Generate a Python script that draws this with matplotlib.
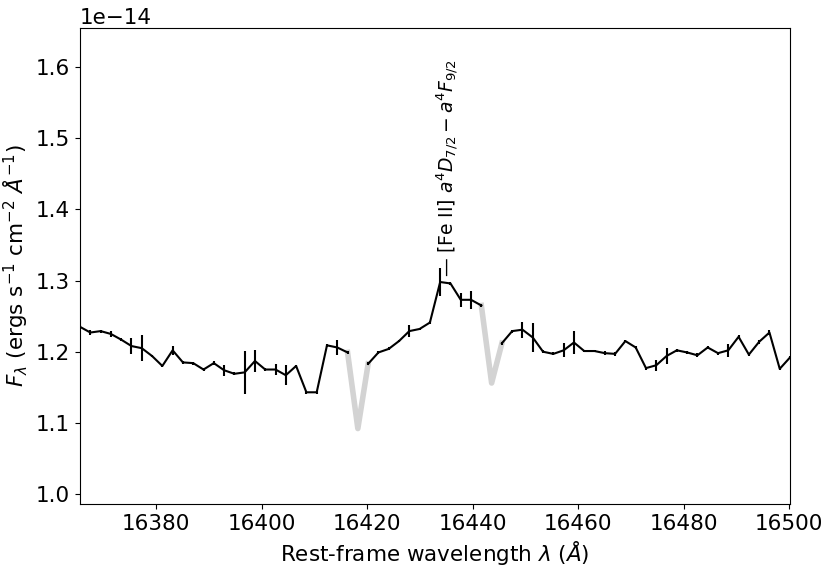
"""[Fe II] 1.644 micron region of the spectrum, masked telluric pixels in grey."""

import matplotlib
import numpy as np

matplotlib.use("Agg")
import matplotlib.pyplot as plt

WAVE = [
    16365.6, 16367.55, 16369.5, 16371.45, 16373.4, 16375.35, 16377.3, 16379.25,
    16381.2, 16383.15, 16385.1, 16387.05, 16389.0, 16390.95, 16392.9, 16394.85,
    16396.8, 16398.75, 16400.7, 16402.65, 16404.6, 16406.55, 16408.5, 16410.45,
    16412.4, 16414.35, 16416.3, 16418.25, 16420.2, 16422.15, 16424.1, 16426.05,
    16428.0, 16429.95, 16431.9, 16433.85, 16435.8, 16437.75, 16439.7, 16441.65,
    16443.6, 16445.55, 16447.5, 16449.45, 16451.4, 16453.35, 16455.3, 16457.25,
    16459.2, 16461.15, 16463.1, 16465.05, 16467.0, 16468.95, 16470.9, 16472.85,
    16474.8, 16476.75, 16478.7, 16480.65, 16482.6, 16484.55, 16486.5, 16488.45,
    16490.4, 16492.35, 16494.3, 16496.25, 16498.2, 16500.15,
]
# flux in units of 1e-14 erg/s/cm2/A
FLUX = [
    1.235, 1.227, 1.229, 1.225, 1.217, 1.208, 1.205, 1.194,
    1.180, 1.202, 1.185, 1.184, 1.175, 1.184, 1.174, 1.169,
    1.171, 1.187, 1.175, 1.175, 1.167, 1.180, 1.143, 1.143,
    1.209, 1.206, 1.199, 1.092, 1.183, 1.199, 1.204, 1.215,
    1.229, 1.232, 1.241, 1.298, 1.296, 1.273, 1.273, 1.265,
    1.156, 1.212, 1.229, 1.231, 1.220, 1.200, 1.197, 1.202,
    1.213, 1.201, 1.201, 1.198, 1.197, 1.215, 1.206, 1.177,
    1.181, 1.194, 1.202, 1.199, 1.195, 1.206, 1.198, 1.202,
    1.221, 1.196, 1.214, 1.227, 1.176, 1.192,
]
ERR = [
    0.002, 0.003, 0.002, 0.004, 0.002, 0.011, 0.018, 0.002,
    0.002, 0.006, 0.002, 0.002, 0.002, 0.003, 0.008, 0.002,
    0.030, 0.015, 0.002, 0.008, 0.014, 0.002, 0.002, 0.002,
    0.002, 0.010, 0.002, 0.0, 0.002, 0.002, 0.002, 0.002,
    0.008, 0.002, 0.002, 0.020, 0.002, 0.010, 0.013, 0.002,
    0.0, 0.002, 0.002, 0.011, 0.020, 0.002, 0.002, 0.010,
    0.016, 0.002, 0.002, 0.003, 0.003, 0.002, 0.002, 0.002,
    0.008, 0.011, 0.002, 0.002, 0.003, 0.002, 0.002, 0.009,
    0.002, 0.002, 0.003, 0.003, 0.002, 0.002,
]
MASKED = [27, 40]  # telluric-contaminated pixels

LINE_WAVE = 16435.3
LINE_LABEL = r"— [Fe II] $a^4D_{7/2} - a^4F_{9/2}$"


def main():
    wave = np.array(WAVE)
    flux = np.array(FLUX) * 1e-14
    err = np.array(ERR) * 1e-14

    good = np.ones(len(wave), dtype=bool)
    good[MASKED] = False
    flux_good = np.where(good, flux, np.nan)

    fig = plt.figure(figsize=(8.31, 5.72), dpi=100)
    ax = fig.add_axes([0.0963, 0.1189, 0.8544, 0.8321])

    for m in MASKED:
        sl = slice(m - 1, m + 2)
        ax.plot(wave[sl], flux[sl], color="lightgrey", lw=4, zorder=1)

    ax.errorbar(wave, flux_good, yerr=np.where(good, err, np.nan), color="k",
                lw=1.5, elinewidth=1.5, capsize=0, zorder=2)

    ax.text(LINE_WAVE, 1.305e-14, LINE_LABEL, rotation=90, ha="center",
            va="bottom", fontsize=13.5)

    ax.set_xlim(wave[0], wave[-1])
    ax.set_ylim(0.986e-14, 1.655e-14)
    ax.tick_params(labelsize=15.5)
    ax.yaxis.get_offset_text().set_fontsize(15.5)
    ax.set_xlabel(r"Rest-frame wavelength $\lambda$ ($\AA$)", fontsize=15.5)
    ax.set_ylabel(r"$F_{\lambda}$ (ergs s$^{-1}$ cm$^{-2}$ $\AA^{-1}$)", fontsize=15.5)

    fig.savefig("out.png", dpi=100)
    plt.close(fig)


if __name__ == "__main__":
    main()
